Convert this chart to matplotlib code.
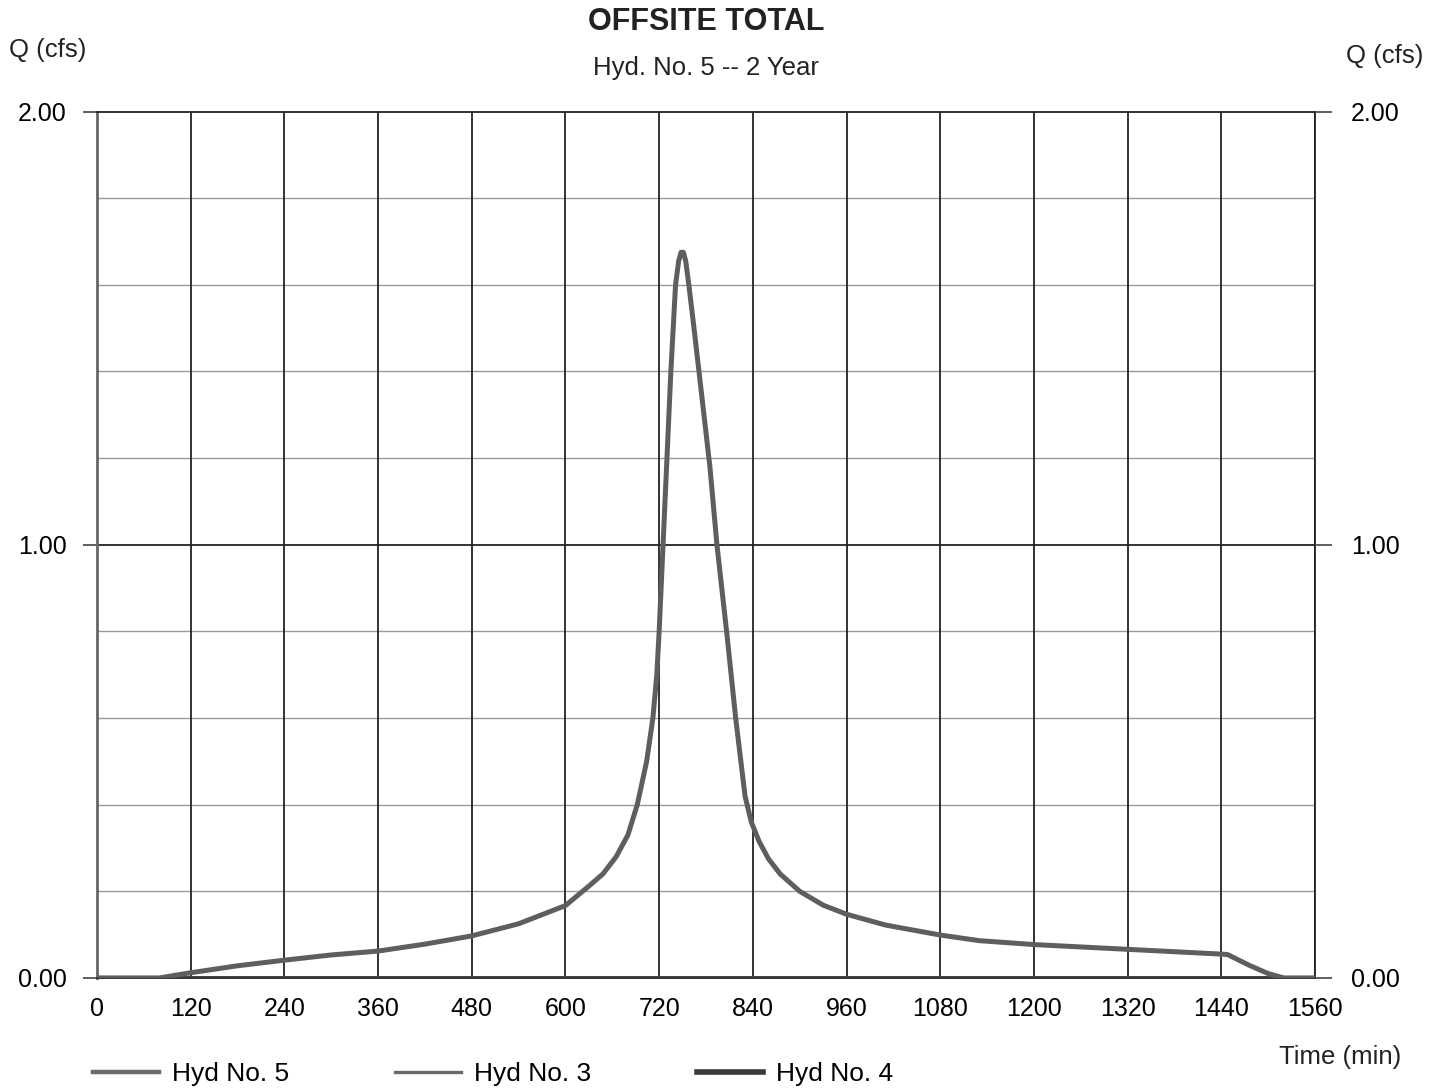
import matplotlib
matplotlib.use("Agg")
import matplotlib.pyplot as plt
from matplotlib.lines import Line2D

plt.rcParams['font.family'] = ['Liberation Sans', 'DejaVu Sans']

# Hyd No. 5 - offsite total, time in minutes, flow in cfs
time_5 = [0, 80, 120, 180, 240, 300, 360, 420, 480, 540, 600, 630, 648, 665,
          680, 692, 704, 712, 717, 720, 725, 730, 735, 741, 745, 748, 751,
          754, 758, 764, 771, 778, 785, 794, 807, 818, 830, 838, 848, 860,
          875, 900, 930, 960, 1010, 1080, 1130, 1200, 1320, 1440, 1448, 1476,
          1500, 1520, 1560]
q_5 = [0, 0, 0.012, 0.028, 0.041, 0.053, 0.062, 0.078, 0.097, 0.125, 0.167,
       0.212, 0.24, 0.28, 0.33, 0.40, 0.50, 0.60, 0.70, 0.80, 1.00, 1.20,
       1.40, 1.60, 1.655, 1.675, 1.675, 1.655, 1.60, 1.51, 1.40, 1.29, 1.18,
       1.00, 0.79, 0.60, 0.42, 0.36, 0.315, 0.275, 0.24, 0.2, 0.168, 0.147,
       0.122, 0.099, 0.086, 0.077, 0.066, 0.055, 0.054, 0.029, 0.01, 0.0,
       0.0]

# Hyd No. 3 and Hyd No. 4 sit on the zero line
time_34 = [0, 1560]
q_3 = [0, 0]
q_4 = [0, 0]

x_ticks = list(range(0, 1561, 120))
y_major = [0.0, 1.0, 2.0]
y_minor = [0.2, 0.4, 0.6, 0.8, 1.2, 1.4, 1.6, 1.8]

fig = plt.figure(figsize=(14.41, 10.89), dpi=100)
ax = fig.add_axes([97/1441, 0.102, (1315-97)/1441, 0.8976-0.102])

# grid
for yv in y_minor:
    ax.axhline(yv, color='#9a9a9a', lw=1.0, zorder=1)
ax.axhline(1.0, color='#222222', lw=1.3, zorder=1)
for xv in x_ticks[1:]:
    ax.axvline(xv, color='#222222', lw=1.3, zorder=1)

ax.plot(time_34, q_3, color='#555555', lw=2.5, zorder=3)
ax.plot(time_34, q_4, color='#3a3a3a', lw=3.5, zorder=3)
ax.plot(time_5, q_5, color='#5e5e5e', lw=3.6, zorder=4,
        solid_joinstyle='round', solid_capstyle='round')

ax.set_xlim(0, 1560)
ax.set_ylim(0, 2.0)
ax.set_xticks(x_ticks)
ax.set_yticks(y_major)
ax.set_yticklabels(['%.2f' % v for v in y_major])
ax.tick_params(axis='x', length=0, pad=14, labelsize=18)
ax.tick_params(axis='y', length=10, width=1.2, pad=12, labelsize=18,
               color='#444444')

for s in ['top', 'bottom']:
    ax.spines[s].set_color('#222222')
    ax.spines[s].set_linewidth(1.3)
ax.spines['left'].set_color('#666666')
ax.spines['left'].set_linewidth(2.0)
ax.spines['right'].set_color('#222222')
ax.spines['right'].set_linewidth(1.3)

ax2 = ax.twinx()
ax2.set_ylim(0, 2.0)
ax2.set_yticks(y_major)
ax2.set_yticklabels(['%.2f' % v for v in y_major])
ax2.tick_params(axis='y', length=12, width=1.2, pad=14, labelsize=18,
                color='#444444')
for s in ax2.spines.values():
    s.set_visible(False)

fig.text(706/1441, 1 - 22/1089, 'OFFSITE TOTAL', ha='center', va='center',
         fontsize=22, fontweight='bold', color='#222222')
fig.text(706/1441, 1 - 68/1089, 'Hyd. No. 5 -- 2 Year', ha='center',
         va='center', fontsize=18.5, color='#222222')
fig.text(48/1441, 1 - 50/1089, 'Q (cfs)', ha='center', va='center',
         fontsize=18.5, color='#222222')
fig.text(1385/1441, 1 - 56/1089, 'Q (cfs)', ha='center', va='center',
         fontsize=18.5, color='#222222')
fig.text(1340/1441, 1 - 1057/1089, 'Time (min)', ha='center', va='center',
         fontsize=18.5, color='#222222')

handles = [Line2D([], [], color='#6a6a6a', lw=3.2),
           Line2D([], [], color='#6a6a6a', lw=2.4),
           Line2D([], [], color='#3a3a3a', lw=4.0)]
labels = ['Hyd No. 5', 'Hyd No. 3', 'Hyd No. 4']
fig.legend(handles, labels, loc='center left', ncol=3,
           bbox_to_anchor=(93/1441, 1 - 1074/1089), frameon=False,
           fontsize=19, handlelength=2.5, handletextpad=0.5,
           columnspacing=4.0, borderpad=0, borderaxespad=0)

fig.savefig('out.png', dpi=100, facecolor='white')
